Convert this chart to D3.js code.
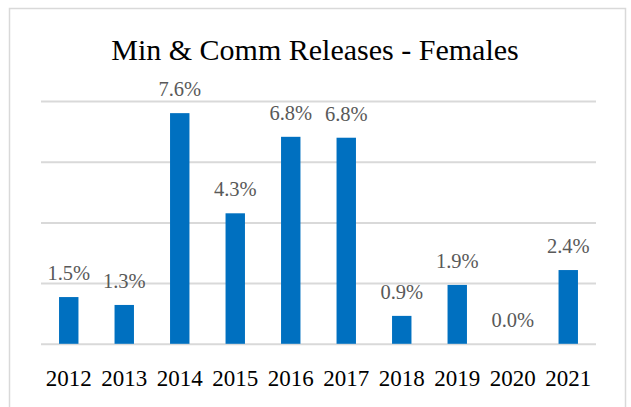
<!DOCTYPE html>
<html>
<head>
<meta charset="utf-8">
<script src="https://cdn.jsdelivr.net/npm/d3@7"></script>
<style>
  body { margin: 0; background: #fff; }
  svg { display: block; font-family: "Liberation Serif", "Times New Roman", serif; }
</style>
</head>
<body>
<svg id="chart"></svg>
<script>
// chart data
const years = ["2012", "2013", "2014", "2015", "2016", "2017", "2018", "2019", "2020", "2021"];
const releases = [1.54, 1.28, 7.6, 4.3, 6.82, 6.79, 0.92, 1.94, 0.0, 2.43];
const gridTicks = [0, 2, 4, 6, 8];
const title = "Min & Comm Releases - Females";

const width = 631, height = 407;
const margin = { top: 101, right: 34, bottom: 63, left: 41 };

const svg = d3.select("#chart")
  .attr("width", width)
  .attr("height", height);

// outer frame
svg.append("rect")
  .attr("x", 9.5)
  .attr("y", 8.5)
  .attr("width", 616)
  .attr("height", 420)
  .attr("fill", "none")
  .attr("stroke", "#d9d9d9")
  .attr("stroke-width", 1.5);

svg.append("text")
  .attr("x", 315)
  .attr("y", 60)
  .attr("text-anchor", "middle")
  .attr("font-size", 30)
  .attr("fill", "#000")
  .text(title);

const x = d3.scaleBand()
  .domain(years)
  .range([margin.left, width - margin.right - 1])
  .paddingInner(0.65)
  .paddingOuter(0.325);

const y = d3.scaleLinear()
  .domain([0, 8])
  .range([height - margin.bottom - 0.2, margin.top]);

// gridlines
svg.append("g")
  .attr("transform", `translate(${margin.left},0)`)
  .call(d3.axisLeft(y).tickValues(gridTicks).tickSize(-(width - margin.right - 1 - margin.left)).tickFormat(""))
  .call(g => g.select(".domain").remove())
  .selectAll(".tick line")
  .attr("stroke", "#d9d9d9")
  .attr("stroke-width", 2);

// bars
svg.append("g")
  .selectAll("rect")
  .data(releases)
  .enter()
  .append("rect")
  .attr("x", (d, i) => x(years[i]))
  .attr("y", d => y(d))
  .attr("width", x.bandwidth())
  .attr("height", d => y(0) - y(d))
  .attr("fill", "#0070c0");

// value labels
svg.append("g")
  .selectAll("text")
  .data(releases)
  .enter()
  .append("text")
  .attr("x", (d, i) => x(years[i]) + x.bandwidth() / 2)
  .attr("y", d => y(d) - 17)
  .attr("text-anchor", "middle")
  .attr("font-size", 20.5)
  .attr("fill", "#595959")
  .text(d => d.toFixed(1) + "%");

// category axis
svg.append("g")
  .attr("transform", `translate(0,${y(0)})`)
  .call(d3.axisBottom(x).tickSize(0).tickPadding(26))
  .call(g => g.select(".domain").remove())
  .selectAll("text")
  .attr("font-family", "Liberation Serif, serif")
  .attr("font-size", 23)
  .attr("fill", "#000");
</script>
</body>
</html>
